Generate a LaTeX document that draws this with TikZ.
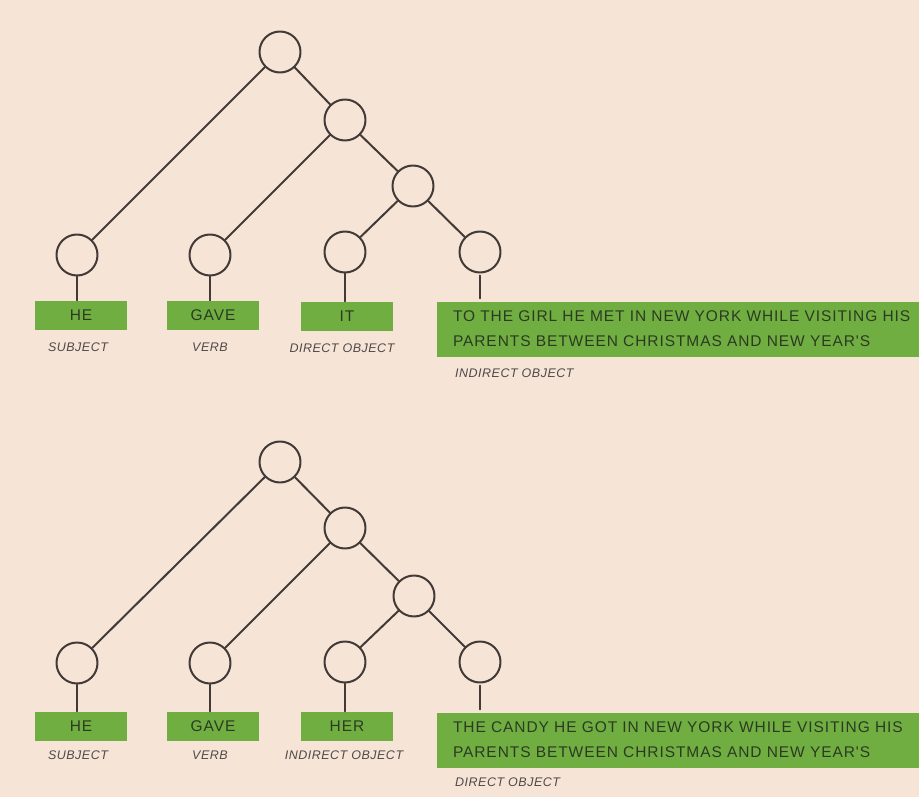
\documentclass[tikz,border=0pt]{standalone}
\usepackage{fontspec}
\setmainfont{Liberation Sans}
\newfontfamily\boxfont[LetterSpace=6]{Liberation Sans}
\newfontfamily\tagfont[LetterSpace=4]{Liberation Sans}
\definecolor{paper}{RGB}{246,229,215}
\definecolor{leafgreen}{RGB}{112,174,66}
\definecolor{wordclr}{RGB}{44,58,34}
\definecolor{roleclr}{RGB}{80,72,72}
\definecolor{lineclr}{RGB}{66,58,54}
\begin{document}
\begin{tikzpicture}[x=1pt,y=-1pt, line join=round, line cap=round,
	knot/.style={circle, draw=lineclr, line width=2pt, minimum size=41pt, inner sep=0pt},
	word/.style={fill=leafgreen, text=wordclr, font=\boxfont\fontsize{15.5}{25}\selectfont, minimum width=92pt, minimum height=29pt, inner sep=0pt},
	phrase/.style={word, minimum width=482pt, minimum height=55pt, text width=450pt, align=left},
	role/.style={text=roleclr, font=\tagfont\itshape\fontsize{12.5}{14}\selectfont, inner sep=0pt},
	edge/.style={draw=lineclr, line width=2pt}]
	\fill[paper] (0,0) rectangle (919,797);
	\useasboundingbox (0,0) rectangle (919,797);
	% first sentence
	\node[knot] (r1) at (280,52) {};
	\node[knot] (s1) at (345,120) {};
	\node[knot] (t1) at (413,186) {};
	\node[knot] (a1) at (77,255) {};
	\node[knot] (b1) at (210,255) {};
	\node[knot] (c1) at (345,252) {};
	\node[knot] (d1) at (480,252) {};
	\node[word] (wa1) at (81,315) {HE};
	\node[word] (wb1) at (213,315) {GAVE};
	\node[word] (wc1) at (347,316) {IT};
	\node[phrase] (wd1) at (678,329) {\mbox{TO THE GIRL HE MET IN NEW YORK WHILE VISITING HIS}\\\mbox{PARENTS BETWEEN CHRISTMAS AND NEW YEAR'S}};
	\node[role] (la1) at (78,347) {SUBJECT};
	\node[role] (lb1) at (210,347) {VERB};
	\node[role] (lc1) at (342,348) {DIRECT OBJECT};
	\node[role, anchor=west] (ld1) at (455,373) {INDIRECT OBJECT};
	\draw[edge] (r1)--(a1) (r1)--(s1) (s1)--(b1) (s1)--(t1) (t1)--(c1) (t1)--(d1);
	\draw[edge, shorten <=2pt, shorten >=3pt] (a1.south)--(a1.south |- wa1.north) (b1.south)--(b1.south |- wb1.north)
		(c1.south)--(c1.south |- wc1.north) (d1.south)--(d1.south |- wd1.north);
	% second sentence
	\node[knot] (r2) at (280,462) {};
	\node[knot] (s2) at (345,528) {};
	\node[knot] (t2) at (414,596) {};
	\node[knot] (a2) at (77,663) {};
	\node[knot] (b2) at (210,663) {};
	\node[knot] (c2) at (345,662) {};
	\node[knot] (d2) at (480,662) {};
	\node[word] (wa2) at (81,726) {HE};
	\node[word] (wb2) at (213,726) {GAVE};
	\node[word] (wc2) at (347,726) {HER};
	\node[phrase] (wd2) at (678,740) {\mbox{THE CANDY HE GOT IN NEW YORK WHILE VISITING HIS}\\\mbox{PARENTS BETWEEN CHRISTMAS AND NEW YEAR'S}};
	\node[role] (la2) at (78,755) {SUBJECT};
	\node[role] (lb2) at (210,755) {VERB};
	\node[role] (lc2) at (344,755) {INDIRECT OBJECT};
	\node[role, anchor=west] (ld2) at (455,782) {DIRECT OBJECT};
	\draw[edge] (r2)--(a2) (r2)--(s2) (s2)--(b2) (s2)--(t2) (t2)--(c2) (t2)--(d2);
	\draw[edge, shorten <=2pt, shorten >=3pt] (a2.south)--(a2.south |- wa2.north) (b2.south)--(b2.south |- wb2.north)
		(c2.south)--(c2.south |- wc2.north) (d2.south)--(d2.south |- wd2.north);
\end{tikzpicture}
\end{document}
